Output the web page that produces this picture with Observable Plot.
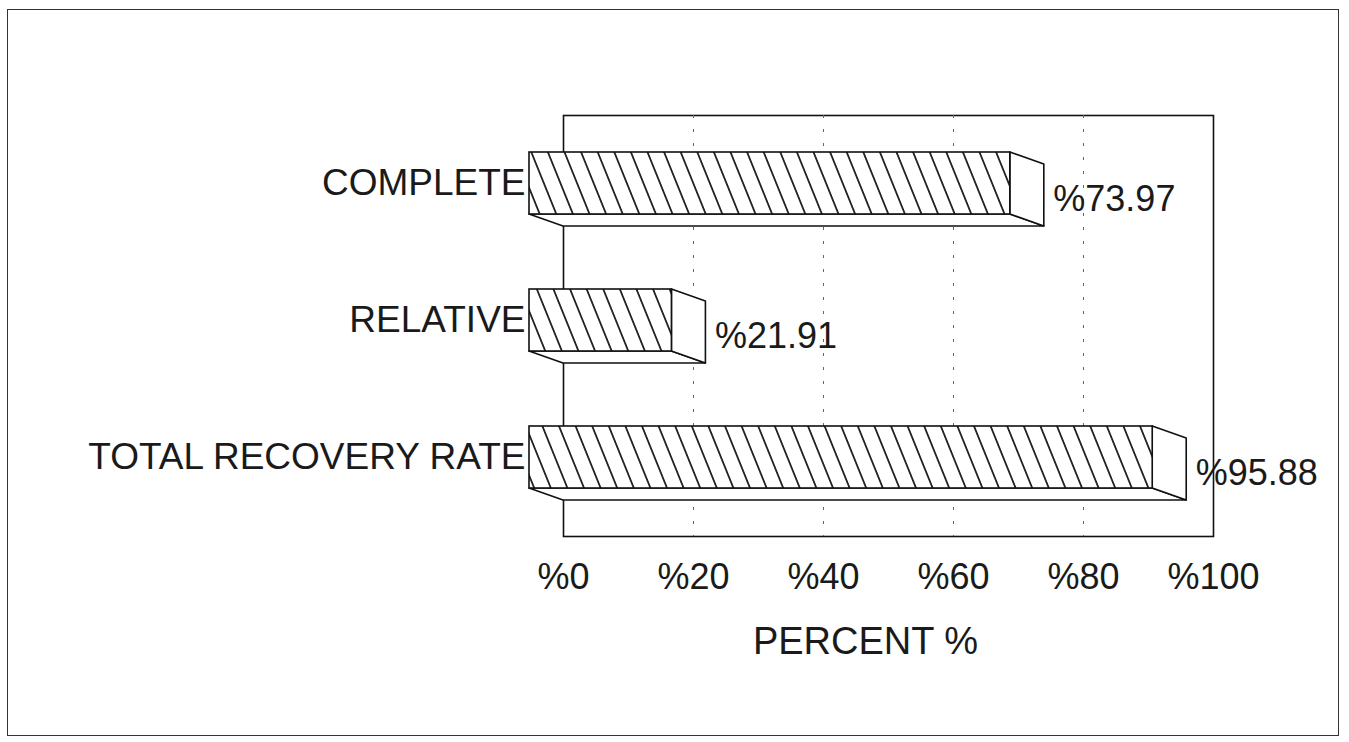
<!DOCTYPE html>
<html><head><meta charset="utf-8">
<script src="https://cdn.jsdelivr.net/npm/d3@7"></script>
<script src="https://cdn.jsdelivr.net/npm/@observablehq/plot@0.6"></script>
<style>
html,body{margin:0;padding:0;background:#fff;}
#wrap{position:relative;width:1349px;height:742px;overflow:hidden;}
#chart svg{display:block;}
#border{position:absolute;left:7px;top:9px;width:1332px;height:727px;border:1.6px solid #333;pointer-events:none;box-sizing:border-box;}
</style></head><body>
<div id="wrap"><div id="chart"></div><div id="border"></div></div>
<script>
const categories = ["COMPLETE", "RELATIVE", "TOTAL RECOVERY RATE"];
const values = [73.97, 21.91, 95.88];
const xTicks = [0, 20, 40, 60, 80, 100];
const gridTicks = [20, 40, 60, 80];
const xLabel = "PERCENT %";

const rows = categories.map((c, i) => ({category: c, value: values[i]}));
const DX = 34, DY = 12;

function sideFaces(index, scales) {
  const x = scales.x, y = scales.y;
  const bw = y.bandwidth ? y.bandwidth() : 62;
  const g = d3.create("svg:g").attr("fill", "white").attr("stroke", "#111")
    .attr("stroke-width", 1.6).attr("stroke-linejoin", "round");
  for (const d of rows) {
    const yt = y(d.category), yb = yt + bw;
    const x0 = x(0), xv = x(d.value);
    g.append("path").attr("d", `M${x0-DX},${yb-DY}L${x0},${yb}L${xv},${yb}L${xv-DX},${yb-DY}Z`);
    g.append("path").attr("d", `M${xv-DX},${yt-DY}L${xv},${yt}L${xv},${yb}L${xv-DX},${yb-DY}Z`);
  }
  return g.node();
}

function hatchDefs() {
  const defs = d3.create("svg:defs");
  const p = defs.append("pattern").attr("id", "hatch").attr("patternUnits", "userSpaceOnUse")
    .attr("width", 16.6).attr("height", 40).attr("patternTransform", "skewX(22)");
  p.append("rect").attr("width", 16.6).attr("height", 40).attr("fill", "white");
  p.append("line").attr("x1", 1).attr("x2", 1).attr("y1", -1).attr("y2", 41)
    .attr("stroke", "#111").attr("stroke-width", 1.8);
  return defs.node();
}

const chart = Plot.plot({
  width: 1349, height: 742,
  marginLeft: 563, marginRight: 136, marginTop: 115, marginBottom: 206,
  style: {fontFamily: "'Liberation Sans', Arial, Helvetica, sans-serif", fontSize: "36px", color: "#1a1a1a", background: "white", overflow: "visible"},
  x: {domain: [0, 100]},
  y: {domain: categories, range: [95.4, 569.2], paddingInner: 0.548, paddingOuter: 0.5},
  marks: [
    hatchDefs,
    Plot.frame({stroke: "#111", strokeWidth: 1.6}),
    Plot.ruleX(gridTicks, {stroke: "#666", strokeWidth: 1, strokeDasharray: "3,11"}),
    sideFaces,
    Plot.barX(rows, {x: "value", y: "category", dx: -DX, dy: -DY, fill: "url(#hatch)", stroke: "#111", strokeWidth: 1.6}),
    Plot.text(rows, {x: "value", y: "category", text: d => "%" + d.value.toFixed(2), textAnchor: "start", dx: 9, dy: 4, fontSize: 36}),
    Plot.axisY({tickSize: 0, tickPadding: DX + 4, dy: -DY, fontSize: 37, label: null}),
    Plot.axisX({ticks: xTicks, tickFormat: d => "%" + d, tickSize: 0, tickPadding: 27, fontSize: 36, label: null}),
    Plot.text([xLabel], {frameAnchor: "bottom", text: d => d, dx: -23, dy: 117, fontSize: 38})
  ]
});
document.getElementById("chart").append(chart);
</script>
</body></html>
